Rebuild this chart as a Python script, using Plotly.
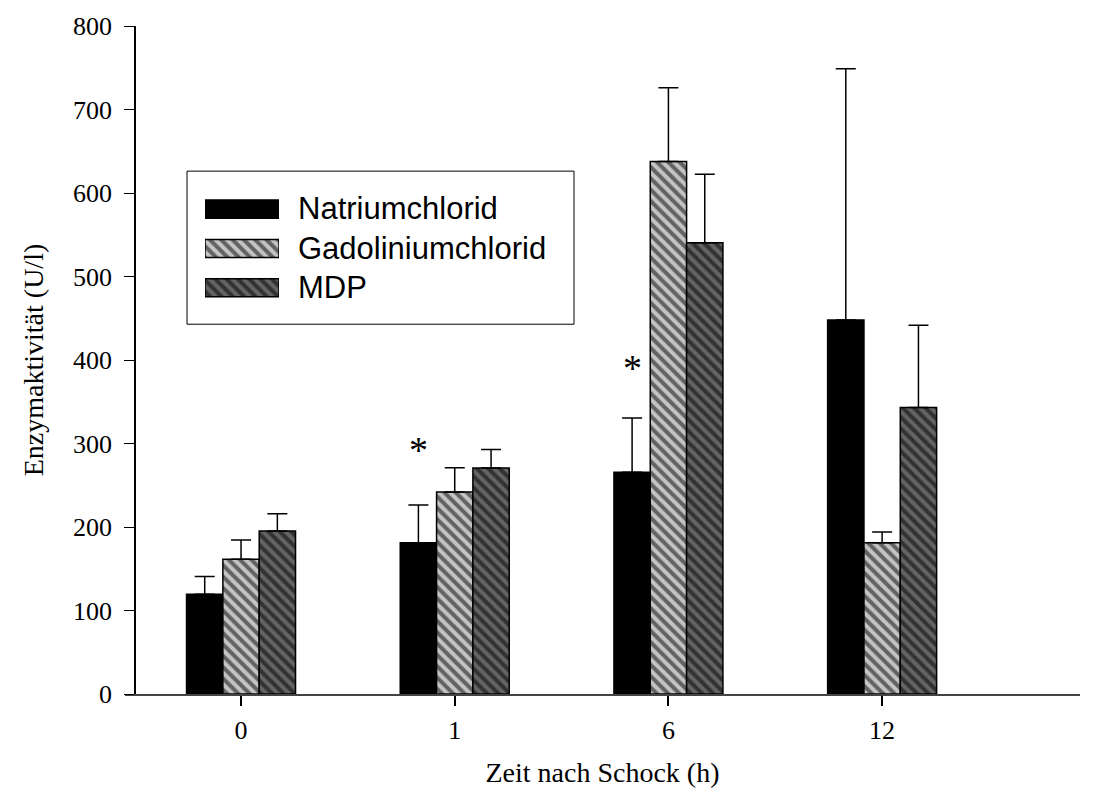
import plotly.graph_objects as go

# Time points after shock (h)
categories = ["0", "1", "6", "12"]

# Mean enzyme activity (U/l) and upper end of the error bar
natrium_mean = [119.4, 181.0, 265.5, 448.0]
natrium_upper = [140.8, 226.2, 330.6, 748.8]
gado_mean = [161.5, 242.0, 637.7, 181.0]
gado_upper = [184.5, 271.0, 726.0, 194.0]
mdp_mean = [195.2, 270.6, 540.5, 343.2]
mdp_upper = [215.8, 292.9, 622.6, 441.7]

series_names = ["Natriumchlorid", "Gadoliniumchlorid", "MDP"]

# Significance markers: (time index, y position in U/l)
star_idx = [1, 2]
star_y = [292.0, 390.0]

x_pos = list(range(len(categories)))

SERIF = "Liberation Serif, Times New Roman, serif"
SANS = "Liberation Sans, Arial, sans-serif"

styles = [
    dict(color="black", pattern=None),
    dict(color="#c4c4c4", pattern=dict(shape="\\", fgcolor="black", bgcolor="#c4c4c4",
                                       size=8, solidity=0.5, fillmode="overlay")),
    dict(color="#646464", pattern=dict(shape="\\", fgcolor="black", bgcolor="#646464",
                                       size=8, solidity=0.5, fillmode="overlay")),
]

means = [natrium_mean, gado_mean, mdp_mean]
uppers = [natrium_upper, gado_upper, mdp_upper]

fig = go.Figure()

for name, m, u, st in zip(series_names, means, uppers, styles):
    marker = dict(color=st["color"], line=dict(color="black", width=1.5))
    if st["pattern"] is not None:
        marker["pattern"] = st["pattern"]
    fig.add_trace(go.Bar(
        x=x_pos, y=m, name=name, marker=marker, showlegend=False,
        error_y=dict(type="data", symmetric=False,
                     array=[hi - lo for hi, lo in zip(u, m)],
                     arrayminus=[0] * len(m),
                     color="black", thickness=1.5, width=10),
    ))

# Legend swatches drawn as bars on a small auxiliary axis pair
for i, (name, st) in enumerate(zip(series_names, styles)):
    marker = dict(color=st["color"], line=dict(color="black", width=1.5))
    if st["pattern"] is not None:
        marker["pattern"] = st["pattern"]
    fig.add_trace(go.Bar(
        x=[1], y=[i], orientation="h", marker=marker, width=0.46,
        xaxis="x2", yaxis="y2", showlegend=False, hoverinfo="skip",
    ))

# Pixel helpers for layout placement
W, H = 1094, 807
ML, MR, MT, MB = 125, 14, 22, 113
PW, PH = W - ML - MR, H - MT - MB


def px_x(px):
    return (px - ML) / PW


def px_y(py):
    return (H - MB - py) / PH


# Legend frame
fig.add_shape(type="rect", xref="paper", yref="paper",
              x0=px_x(187), x1=px_x(574), y0=px_y(322), y1=px_y(168),
              line=dict(color="black", width=1), fillcolor="rgba(0,0,0,0)", layer="below")

for name, cy in zip(series_names, [206, 246, 285]):
    fig.add_annotation(x=px_x(296), y=px_y(cy), xref="paper", yref="paper",
                       text=name, showarrow=False, xanchor="left", yanchor="middle",
                       font=dict(family=SANS, size=31, color="black"))

# Significance asterisks above the Natriumchlorid bars
for idx, yv in zip(star_idx, star_y):
    fig.add_annotation(x=x_pos[idx] - 0.17, y=yv, xref="x", yref="y", text="*",
                       showarrow=False, yanchor="middle",
                       font=dict(family=SERIF, size=38, color="black"))

x_left = -0.543
x_right = 3.926

fig.update_layout(
    width=W, height=H,
    margin=dict(l=ML, r=MR, t=MT, b=MB),
    paper_bgcolor="white", plot_bgcolor="white",
    barmode="group", bargap=0.49, bargroupgap=0,
    showlegend=False,
    font=dict(family=SERIF, size=26, color="black"),
    xaxis=dict(
        range=[x_left, x_right], tickmode="array", tickvals=x_pos, ticktext=categories,
        showgrid=False, zeroline=False, showline=True, linecolor="#444444", linewidth=2,
        ticks="outside", ticklen=10, tickwidth=1.5, tickcolor="black",
        ticklabelstandoff=2,
        tickfont=dict(family=SERIF, size=26),
        title=dict(text="Zeit nach Schock (h)", font=dict(family=SERIF, size=28), standoff=18),
    ),
    yaxis=dict(
        range=[0, 800], tickvals=[0, 100, 200, 300, 400, 500, 600, 700, 800],
        showgrid=False, zeroline=False, showline=True, linecolor="black", linewidth=1.5,
        ticks="outside", ticklen=10, tickwidth=1, tickcolor="black",
        ticklabelstandoff=7,
        anchor="free", position=px_x(135),
        tickfont=dict(family=SERIF, size=26),
        title=dict(text="Enzymaktivität (U/l)", font=dict(family=SERIF, size=28), standoff=20),
    ),
    xaxis2=dict(domain=[px_x(205), px_x(279)], range=[0, 1], visible=False, fixedrange=True),
    yaxis2=dict(domain=[px_y(305), px_y(186.5)], range=[2.5, -0.5], visible=False,
                anchor="x2", fixedrange=True),
)

fig.write_html("out.html")
